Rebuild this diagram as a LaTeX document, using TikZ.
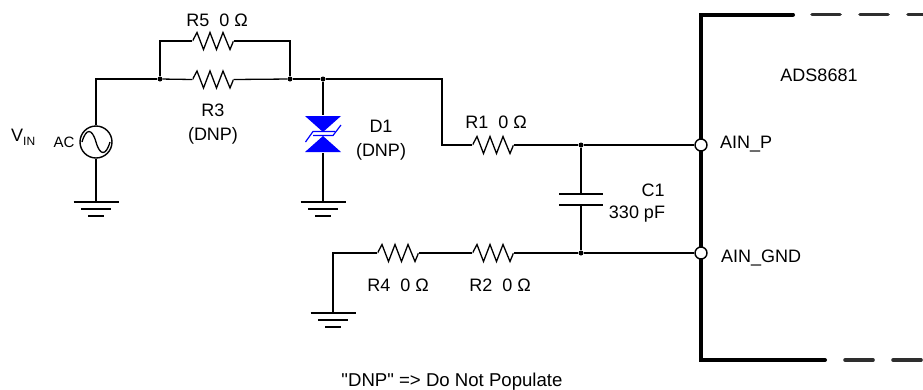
\documentclass[tikz,border=0pt]{standalone}
\usepackage{fontspec}
\setmainfont{Liberation Sans}
\newfontfamily\plainf{Liberation Sans}
\newcommand{\lbl}{\fontsize{18}{24}\selectfont}
\tikzset{
  wire/.style={line width=1.3pt,line join=miter},
  dot/.style={circle,fill=black,inner sep=0pt,minimum size=5pt},
  pin/.style={circle,draw=black,fill=white,line width=1.4pt,inner sep=0pt,minimum size=12pt},
  label/.style={font=\lbl,inner sep=0pt,align=center},
  body/.style={line width=4pt,line cap=round,line join=miter},
  bodydash/.style={line width=3.6pt,line cap=round,draw=black!82,dash pattern=on 28pt off 20pt},
  resistor/.style={inner sep=0pt,minimum width=41pt,minimum height=22pt,
    path picture={\draw[wire,line join=miter,shift={(path picture bounding box.center)}]
      (-20.5,0)--(-16,-8.5)--(-9.5,8.5)--(-3,-8.5)--(3.5,8.5)--(10,-8.5)--(17,8.5)--(20.5,0);}},
  source/.style={circle,draw=black,fill=white,line width=1.4pt,inner sep=0pt,minimum size=32pt,
    path picture={\draw[wire,shift={(path picture bounding box.center)}]
      (-14,0) .. controls (-10,-14) and (-4,-14) .. (0,0) .. controls (4,14) and (10,14) .. (14,0);}},
  tvs/.style={inner sep=0pt,minimum width=38pt,minimum height=38pt,
    path picture={\begin{scope}[shift={(path picture bounding box.center)}]
      \fill[tvsblue] (-18,-18)--(18,-18)--(0,-2)--cycle;
      \fill[tvsblue] (-18,18)--(18,18)--(0,2)--cycle;
      \draw[tvsblue,line width=1.2pt] (-17.5,8)--(-10,-2.5)--(12,-2.5);
      \draw[tvsblue,line width=1.2pt] (18,-9)--(10,1.5)--(-10,1.5);
    \end{scope}}},
  gnd/.pic={\draw[wire] (-22.5,0)--(22.5,0) (-15,7)--(15,7) (-8,14)--(8,14);}
}
\definecolor{tvsblue}{RGB}{0,0,255}
\begin{document}
\begin{tikzpicture}[x=1pt,y=-1pt]
\useasboundingbox (0,0) rectangle (923,389);
% coordinates
\coordinate (tl) at (96,79);
\coordinate (g1) at (96,202);
\coordinate (g2) at (323,202);
\coordinate (g3) at (333,313);
\coordinate (topL) at (160,41);
\coordinate (topR) at (290,41);
\coordinate (bend1) at (442,79);
\coordinate (bend2) at (442,145);
\coordinate (bend3) at (333,253);
\coordinate (bodyTR) at (793,14.5);
\coordinate (bodyTL) at (701,14.5);
\coordinate (bodyBL) at (701,360);
\coordinate (bodyBR) at (825,360);
\coordinate (dashT) at (812,14.5);
\coordinate (dashB) at (845,360);
\coordinate (endT) at (923,14.5);
\coordinate (endB) at (923,360);
% component nodes
\node[source] (V) at (96,142) {};
\node[dot] (n1) at (160,79) {};
\node[dot] (n2) at (290,79) {};
\node[dot] (n3) at (323,79) {};
\node[dot] (n4) at (581,145) {};
\node[dot] (n5) at (581,253) {};
\node[resistor] (R5) at (213,41) {};
\node[resistor] (R3) at (213,79.5) {};
\node[resistor] (R1) at (493,145) {};
\node[resistor] (R2) at (493,253) {};
\node[resistor] (R4) at (398,253) {};
\node[tvs] (D1) at (323,134) {};
\coordinate (C1a) at (581,194);
\coordinate (C1b) at (581,205);
\coordinate (C1aL) at (559,194);
\coordinate (C1aR) at (603,194);
\coordinate (C1bL) at (559,205);
\coordinate (C1bR) at (603,205);
% body of device
\draw[body] (bodyBR)--(bodyBL)--(bodyTL)--(bodyTR);
\draw[bodydash] (dashT)--(endT);
\draw[bodydash] (dashB)--(endB);
\node[pin] (pP) at (701,145) {};
\node[pin] (pG) at (701,253) {};
% wires
\draw[wire] (V.north)--(tl)--(n1);
\draw[wire] (V.south)--(g1);
\draw[wire] (n1)--(R3.west) (R3.east)--(n2);
\draw[wire] (n1)--(topL)--(R5.west) (R5.east)--(topR)--(n2);
\draw[wire] (n2)--(n3)--(bend1)--(bend2)--(R1.west);
\draw[wire] (R1.east)--(n4)--(pP);
\draw[wire] (n3)--(D1.north) (D1.south)--(g2);
\draw[wire] (n4)--(C1a) (C1b)--(n5);
\draw[wire] (C1aL)--(C1aR) (C1bL)--(C1bR);
\draw[wire] (pG)--(n5)--(R2.east) (R2.west)--(R4.east) (R4.west)--(bend3)--(g3);
\pic at (g1) {gnd};
\pic at (g2) {gnd};
\pic at (g3) {gnd};
% labels
\node[label,anchor=west] (lV) at (11,137.5) {V\raisebox{-0.4ex}{\fontsize{12}{12}\selectfont IN}};
\node[label,font=\fontsize{15}{15}\selectfont] (lAC) at (64,142.5) {AC};
\node[label] (lR5) at (217,20.5) {R5\ \ 0 Ω};
\node[label] (lR3) at (213,124.5) {R3\\(DNP)};
\node[label] (lD1) at (381,140) {D1\\(DNP)};
\node[label] (lR1) at (496,122) {R1\ \ 0 Ω};
\node[label] (lC1) at (653,190) {C1};
\node[label] (lCv) at (637,214) {330 pF};
\node[label] (lR4) at (398,285) {R4\ \ 0 Ω};
\node[label] (lR2) at (500,285) {R2\ \ 0 Ω};
\node[label,anchor=west] (lP) at (720,144) {AIN\_P};
\node[label,anchor=west] (lG) at (721,258) {AIN\_GND};
\node[label] (lU) at (819,75.5) {ADS8681};
\node[label,font=\fontsize{18.6}{24}\selectfont] (lN) at (452,382) {\plainf "DNP" => Do Not Populate};
\end{tikzpicture}
\end{document}
